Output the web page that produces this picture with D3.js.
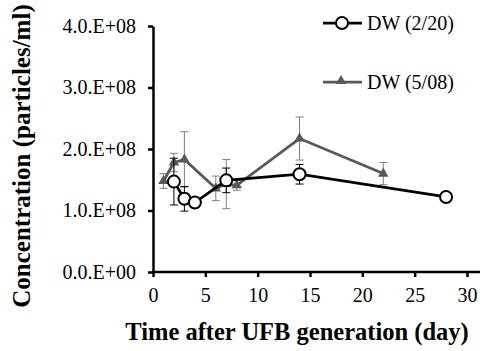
<!DOCTYPE html>
<html>
<head>
<meta charset="utf-8">
<script src="https://cdn.jsdelivr.net/npm/d3@7"></script>
<style>
  body { margin: 0; background: #fff; }
</style>
</head>
<body>
<div id="graph"></div>
<script>
// days, mean, error (in 1e8 particles/ml)
var days220 = [2, 3, 4, 7, 14, 28];
var vals220 = [1.47, 1.19, 1.13, 1.49, 1.59, 1.22];
var errs220 = [0.38, 0.20, 0.05, 0.20, 0.16, 0.06];

var days508 = [1, 2, 3, 6, 7, 8, 14, 22];
var vals508 = [1.48, 1.78, 1.83, 1.36, 1.43, 1.41, 2.17, 1.60];
var errs508 = [0.12, 0.15, 0.45, 0.20, 0.40, 0.08, 0.35, 0.18];

var xTicks = [0, 5, 10, 15, 20, 25, 30];
var yTicks = [0, 1, 2, 3, 4];
var yTickLabels = ["0.0.E+00", "1.0.E+08", "2.0.E+08", "3.0.E+08", "4.0.E+08"];

var FONT = "'Liberation Serif', 'Times New Roman', serif";
var W = 480, H = 351;
var svg = d3.select("#graph").append("svg")
    .attr("width", W).attr("height", H);

var x = d3.scaleLinear().domain([0, 30]).range([153, 467]);
var y = d3.scaleLinear().domain([0, 4]).range([272, 26]);

// axes
var xAxis = svg.append("g")
    .attr("transform", "translate(0," + y(0) + ")")
    .call(d3.axisBottom(x).tickValues(xTicks).tickSize(5).tickSizeOuter(0).tickPadding(11));
xAxis.select(".domain").remove();
xAxis.selectAll("line").style("stroke", "#000").style("stroke-width", "2.5px");
xAxis.selectAll("text").style("font-size", "20px").style("font-family", FONT).style("fill", "#000");

svg.append("line")
    .attr("x1", x(0) - 1.25).attr("x2", 480)
    .attr("y1", y(0)).attr("y2", y(0))
    .style("stroke", "#000").style("stroke-width", "2.5px");

var yAxis = svg.append("g")
    .attr("transform", "translate(" + x(0) + ",0)")
    .call(d3.axisLeft(y).tickValues(yTicks).tickSize(5).tickSizeOuter(0).tickPadding(12)
        .tickFormat(function(d, i) { return yTickLabels[i]; }));
yAxis.select(".domain").style("stroke", "#000").style("stroke-width", "2.5px");
yAxis.selectAll("line").style("stroke", "#000").style("stroke-width", "2.5px");
yAxis.selectAll("text").style("font-size", "20px").style("font-family", FONT).style("fill", "#000");

// axis titles
svg.append("text")
    .attr("x", 297).attr("y", 340)
    .attr("text-anchor", "middle")
    .style("font-family", FONT)
    .style("font-size", "24.5px").style("font-weight", "bold")
    .text("Time after UFB generation (day)");

svg.append("text")
    .attr("transform", "translate(30,156) rotate(-90)")
    .attr("text-anchor", "middle")
    .style("font-family", FONT)
    .style("font-size", "25px").style("font-weight", "bold")
    .text("Concentration (particles/ml)");

function series(days, vals, errs, color, errColor) {
    var data = days.map(function(d, i) { return {x: d, y: vals[i], e: errs[i]}; });
    var g = svg.append("g");
    // error bars
    var eb = g.selectAll(".eb").data(data).enter().append("g");
    eb.append("line")
        .attr("x1", function(d) { return x(d.x); }).attr("x2", function(d) { return x(d.x); })
        .attr("y1", function(d) { return y(d.y + d.e); }).attr("y2", function(d) { return y(d.y - d.e); });
    eb.append("line")
        .attr("x1", function(d) { return x(d.x) - 4; }).attr("x2", function(d) { return x(d.x) + 4; })
        .attr("y1", function(d) { return y(d.y + d.e); }).attr("y2", function(d) { return y(d.y + d.e); });
    eb.append("line")
        .attr("x1", function(d) { return x(d.x) - 4; }).attr("x2", function(d) { return x(d.x) + 4; })
        .attr("y1", function(d) { return y(d.y - d.e); }).attr("y2", function(d) { return y(d.y - d.e); });
    eb.selectAll("line").style("stroke", errColor).style("stroke-width", "1px");
    // line
    g.append("path")
        .datum(data)
        .attr("d", d3.line().x(function(d) { return x(d.x); }).y(function(d) { return y(d.y); }))
        .style("fill", "none").style("stroke", color).style("stroke-width", "2.75px");
    return {g: g, data: data};
}

var s2 = series(days508, vals508, errs508, "#595959", "#7f7f7f");
s2.g.selectAll(".tri").data(s2.data).enter().append("path")
    .attr("transform", function(d) { return "translate(" + x(d.x) + "," + y(d.y) + ")"; })
    .attr("d", d3.symbol().type(d3.symbolTriangle).size(48))
    .style("fill", "#595959");

var s1 = series(days220, vals220, errs220, "#000", "#000");
s1.g.selectAll(".dot").data(s1.data).enter().append("circle")
    .attr("cx", function(d) { return x(d.x); })
    .attr("cy", function(d) { return y(d.y); })
    .attr("r", 6)
    .style("fill", "#fff").style("stroke", "#000").style("stroke-width", "2px");

// legend
var leg = svg.append("g");
leg.append("line").attr("x1", 323).attr("x2", 362).attr("y1", 23).attr("y2", 23)
    .style("stroke", "#000").style("stroke-width", "2.75px");
leg.append("circle").attr("cx", 342).attr("cy", 23).attr("r", 6)
    .style("fill", "#fff").style("stroke", "#000").style("stroke-width", "2px");
leg.append("text").attr("x", 367).attr("y", 30)
    .style("font-family", FONT).style("font-size", "20px").text("DW (2/20)");

leg.append("line").attr("x1", 323).attr("x2", 362).attr("y1", 82).attr("y2", 82)
    .style("stroke", "#595959").style("stroke-width", "2.75px");
leg.append("path").attr("transform", "translate(341,81)")
    .attr("d", d3.symbol().type(d3.symbolTriangle).size(48))
    .style("fill", "#595959");
leg.append("text").attr("x", 367).attr("y", 89)
    .style("font-family", FONT).style("font-size", "20px").text("DW (5/08)");
</script>
</body>
</html>
